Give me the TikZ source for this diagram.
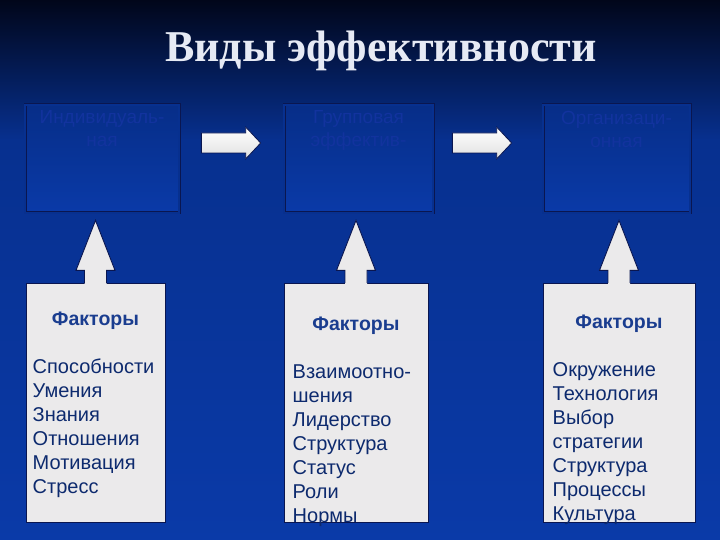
\documentclass[tikz,border=0pt]{standalone}
\usepackage{fontspec}
\setmainfont{Liberation Sans}
\newfontfamily\titlefont{Liberation Serif}
\usepackage{tikz}
\usetikzlibrary{positioning,calc}
\definecolor{EffSky}{HTML}{01061A}
\definecolor{EffDeep}{HTML}{07308F}
\definecolor{EffBlue}{HTML}{0A3AA8}
\definecolor{EffNavy}{HTML}{0A1650}
\definecolor{EffInk}{HTML}{0D2A6E}
\definecolor{EffHead}{HTML}{1A3D8F}
\definecolor{EffPaper}{HTML}{EBEAEB}
\definecolor{EffGhost}{HTML}{12339E}
\definecolor{EffTitle}{HTML}{E6EAF4}

\begin{document}
\begin{tikzpicture}[x=1pt,y=1pt,
    level/.style={draw=EffNavy,double=EffDeep,double distance=1.6pt,line width=0.7pt,
      top color=EffDeep!95!black,bottom color=EffBlue,
      minimum width=#1,minimum height=108pt,inner sep=0pt},
    factors/.style={draw=EffNavy,line width=1pt,fill=EffPaper,
      minimum width=#1,minimum height=239pt,inner sep=0pt},
    head/.style={font=\bfseries\fontsize{19.5}{23}\selectfont,text=EffHead,anchor=base,inner sep=0pt},
    items/.style={font=\fontsize{20}{24}\selectfont,text=EffInk,align=left,
      anchor=north west,inner sep=0pt},
    ghost/.style={font=\fontsize{19}{23}\selectfont,text=EffGhost,align=center,
      anchor=north,inner sep=0pt},
    push/.style={draw=EffNavy,line width=0.8pt,top color=white,bottom color=black!12},
    liftline/.style={draw=EffNavy,line width=0.9pt,line join=miter}
  ]
    \useasboundingbox (0,0) rectangle (720,540);
    \shade[top color=EffSky,bottom color=EffDeep] (0,400) rectangle (720,540);
    \shade[top color=EffDeep,bottom color=EffBlue] (0,0) rectangle (720,400);

    \node[font=\titlefont\bfseries\fontsize{44}{50}\selectfont,text=EffTitle,anchor=base]
      (title) at (381,478) {Виды эффективности};

    % levels of effectiveness
    \node[level=154pt] (t1) at (102,381) {};
    \node[level=149pt] (t2) at (358.5,381) {};
    \node[level=147pt] (t3) at (616.5,381) {};
    \node[ghost] (g1) at ($(t1.north)+(0,-6)$) {Индивидуаль-\\ная};
    \node[ghost] (g2) at ($(t2.north)+(0,-6)$) {Групповая\\эффектив-};
    \node[ghost] (g3) at ($(t3.north)+(0,-6)$) {Организаци-\\онная};

    \foreach \a/\b/\s/\e in {t1/t2/22/23,t2/t3/19/31}
      \draw[push] ($(\a.east)+(\s,6)$) -- ($(\b.west)+(-\e-15,6)$)
        -- ($(\b.west)+(-\e-15,0)$) -- ($(\b.west)+(-\e,16)$)
        -- ($(\b.west)+(-\e-15,32)$) -- ($(\b.west)+(-\e-15,26)$)
        -- ($(\a.east)+(\s,26)$) -- cycle;

    % factors
    \node[factors=139pt] (f1) at (95.5,137) {};
    \node[factors=144pt] (f2) at (356,137) {};
    \node[factors=152pt] (f3) at (619,137) {};

    \foreach \f/\t in {f1/t1,f2/t2,f3/t3}{
      \coordinate (tip) at ($(\f.north |- \t.south)+(0,-7)$);
      \fill[EffPaper] ($(\f.north)+(-11,-2)$) |- ($(tip)+(-19.5,-50)$) -- (tip)
        -- ($(tip)+(19.5,-50)$) -| ($(\f.north)+(11,-2)$) -- cycle;
      \draw[liftline] ($(\f.north)+(-11,0)$) |- ($(tip)+(-19.5,-50)$) -- (tip)
        -- ($(tip)+(19.5,-50)$) -| ($(\f.north)+(11,0)$);
    }

    \node[head] (h1) at ($(f1.north)+(0,-43)$) {Факторы};
    \node[head] (h2) at ($(f2.north)+(0,-48)$) {Факторы};
    \node[head] (h3) at ($(f3.north)+(0,-46)$) {Факторы};

    \node[items] (l1) at ($(f1.north west)+(7,-76)$)
      {Способности\\Умения\\Знания\\Отношения\\Мотивация\\Стресс};
    \node[items] (l2) at ($(f2.north west)+(9,-82)$)
      {Взаимоотно-\\шения\\Лидерство\\Структура\\Статус\\Роли\\Нормы};
    \node[items] (l3) at ($(f3.north west)+(10,-79)$)
      {Окружение\\Технология\\Выбор\\стратегии\\Структура\\Процессы\\Культура};
  \end{tikzpicture}
\end{document}
